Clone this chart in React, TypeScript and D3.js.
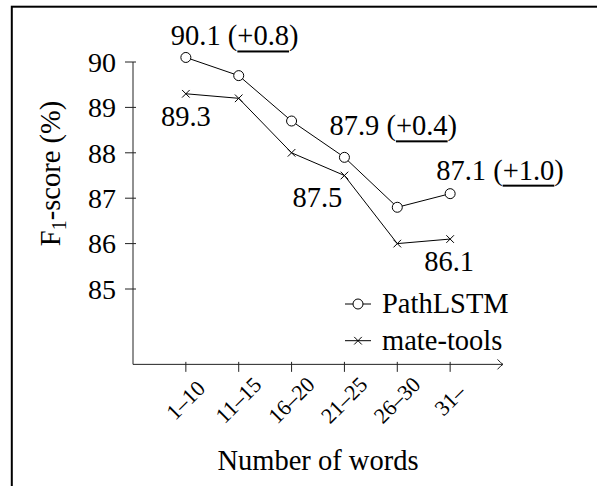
import React from "react";
import * as d3 from "d3";

const categories = ["1–10", "11–15", "16–20", "21–25", "26–30", "31–"];
const pathLstm = [90.1, 89.7, 88.7, 87.9, 86.8, 87.1];
const mateTools = [89.3, 89.2, 88.0, 87.5, 86.0, 86.1];
const yTicks = [85, 86, 87, 88, 89, 90];
const seriesNames = ["PathLSTM", "mate-tools"];

// points that carry a value label, and the label offset from the point
const upperLabels = [
  { i: 0, dx: -15, dy: -12 },
  { i: 3, dx: -15, dy: -22 },
  { i: 5, dx: -14, dy: -14 },
];
const lowerLabels = [
  { i: 0, dx: 0, dy: 32 },
  { i: 3, dx: -27, dy: 31 },
  { i: 5, dx: -1, dy: 32 },
];

const FONT = "Liberation Serif";
const FS = 28.5;

// text width for the underlines under the gains
const ctx = document.createElement("canvas").getContext("2d");
const measure = (s: string, size: number) => {
  if (!ctx) return s.length * size * 0.5;
  ctx.font = `${size}px "${FONT}"`;
  return ctx.measureText(s).width;
};

const x = d3.scalePoint<string>().domain(categories).range([133, 503]).padding(1);
const y = d3.scaleLinear().domain([85, 90]).range([289, 62]);
const yBottom = y(83.34);
const xLeft = 133;
const xRight = 503;

const line = d3.line<number>()
  .x((_, i) => x(categories[i]) as number)
  .y((d) => y(d));

function Cross({ cx, cy }: { cx: number; cy: number }) {
  const r = 3.8;
  return (
    <path
      d={`M${cx - r},${cy - r}L${cx + r},${cy + r}M${cx - r},${cy + r}L${cx + r},${cy - r}`}
      stroke="#000"
      strokeWidth={1}
    />
  );
}

function Ring({ cx, cy }: { cx: number; cy: number }) {
  return <circle cx={cx} cy={cy} r={5} fill="#fff" stroke="#000" strokeWidth={1} />;
}

export default function App() {
  return (
    <svg
      width={597}
      height={486}
      fontFamily={FONT}
      style={{ position: "absolute", left: 0, top: 0, background: "#fff" }}
    >
      {/* outer frame, only top and left edges fall inside the picture */}
      <rect x={11.8} y={6.7} width={800} height={800} fill="none" stroke="#000" strokeWidth={2} />

      {/* axes */}
      <path d={`M${xLeft},${y(90)}V${yBottom}H${xRight}`} fill="none" stroke="#222" strokeWidth={1} />
      <path
        d={`M${xRight - 5.5},${yBottom - 5}Q${xRight - 2},${yBottom - 1} ${xRight},${yBottom}Q${xRight - 2},${yBottom + 1} ${xRight - 5.5},${yBottom + 5}`}
        fill="none"
        stroke="#222"
        strokeWidth={1}
      />

      {yTicks.map((t) => (
        <g key={t}>
          <line x1={xLeft - 8} x2={xLeft + 3} y1={y(t)} y2={y(t)} stroke="#222" />
          <text x={xLeft - 17} y={y(t) + 9.8} textAnchor="end" fontSize={28}>
            {t}
          </text>
        </g>
      ))}

      {categories.map((c) => {
        const cx = x(c) as number;
        return (
          <g key={c}>
            <line x1={cx} x2={cx} y1={yBottom - 2.5} y2={yBottom + 7.5} stroke="#222" />
            <text
              transform={`translate(${cx + 5},${yBottom + 41}) rotate(-45)`}
              textAnchor="middle"
              fontSize={22}
            >
              {c}
            </text>
          </g>
        );
      })}

      <text x={(xLeft + xRight) / 2} y={470} textAnchor="middle" fontSize={FS}>
        Number of words
      </text>

      <text
        transform={`translate(60,${(y(85) + y(90)) / 2 - 2}) rotate(-90)`}
        textAnchor="middle"
        fontSize={FS}
      >
        <tspan>F</tspan>
        <tspan dy={6} fontSize={20}>1</tspan>
        <tspan dy={-6}>-score (%)</tspan>
      </text>

      {/* series */}
      {[mateTools, pathLstm].map((s, k) => (
        <path key={k} d={line(s) || ""} fill="none" stroke="#000" strokeWidth={1} />
      ))}
      {mateTools.map((v, i) => (
        <Cross key={"m" + i} cx={x(categories[i]) as number} cy={y(v)} />
      ))}
      {pathLstm.map((v, i) => (
        <Ring key={"p" + i} cx={x(categories[i]) as number} cy={y(v)} />
      ))}

      {/* value labels */}
      {upperLabels.map((a) => {
        const px = (x(categories[a.i]) as number) + a.dx;
        const py = y(pathLstm[a.i]) + a.dy;
        const head = `${pathLstm[a.i].toFixed(1)} (`;
        const gain = `+${(pathLstm[a.i] - mateTools[a.i]).toFixed(1)}`;
        const u0 = px + measure(head, FS);
        const uw = measure(gain, FS);
        return (
          <g key={"u" + a.i}>
            <text x={px} y={py} fontSize={FS}>
              {head + gain + ")"}
            </text>
            <rect x={u0} y={py + 5} width={uw} height={2} fill="#000" />
          </g>
        );
      })}
      {lowerLabels.map((a) => (
        <text
          key={"l" + a.i}
          x={(x(categories[a.i]) as number) + a.dx}
          y={y(mateTools[a.i]) + a.dy}
          textAnchor="middle"
          fontSize={FS}
        >
          {mateTools[a.i].toFixed(1)}
        </text>
      ))}

      {/* legend */}
      <g transform="translate(345,304)">
        {seriesNames.map((name, k) => (
          <g key={name} transform={`translate(0,${k * 36.7})`}>
            <line x1={0} x2={26} y1={0} y2={0} stroke="#000" />
            {k === 0 ? <Ring cx={13} cy={0} /> : <Cross cx={13} cy={0} />}
            <text x={37} y={9.3} fontSize={FS}>
              {name}
            </text>
          </g>
        ))}
      </g>
    </svg>
  );
}
